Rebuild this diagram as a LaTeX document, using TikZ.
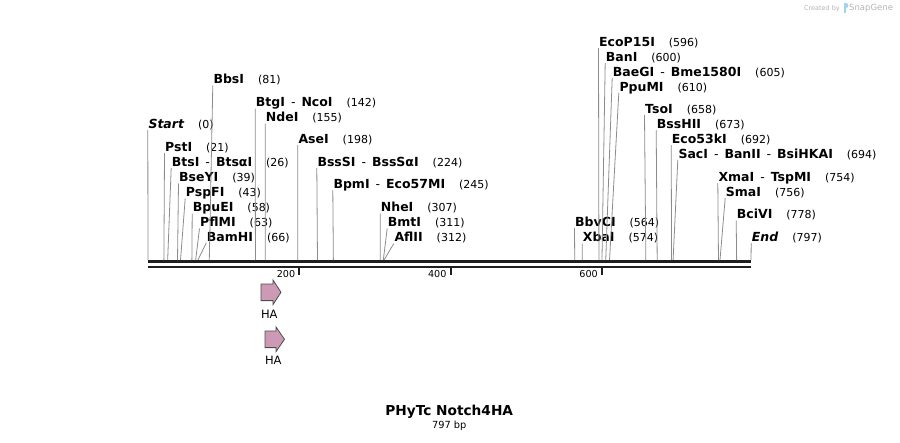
\documentclass[tikz,border=0pt]{standalone}
\usepackage{fontspec}
\setmainfont{DejaVu Sans}[BoldFont={DejaVu Sans Bold},ItalicFont={DejaVu Sans Oblique},BoldItalicFont={DejaVu Sans Bold Oblique}]
\definecolor{feature}{HTML}{CC9AB4}
\definecolor{cutline}{HTML}{8C8C8C}
\definecolor{logo}{HTML}{B4B4B4}
\definecolor{logoblue}{HTML}{9DD3F3}
\newcommand{\bpx}{0.7566}
\newcommand{\enzyme}[2]{{\fontsize{12.5}{14}\selectfont\bfseries #1}\hspace{14pt}(#2)}
\newcommand{\enzsep}{\hspace{6pt}\textmd{-}\hspace{6pt}}

\begin{document}
\begin{tikzpicture}[x=1pt,y=-1pt,
		enz/.style={anchor=base west,inner sep=0pt,font=\fontsize{11}{13}\selectfont},
		cut/.style={draw=cutline,line width=0.8pt},
		backbone/.style={draw=black!88,line width=3pt},
		tick/.style={draw=black!88,line width=2pt},
		feat/.style={draw=black!70,fill=feature,line width=0.8pt}]
		%
		\useasboundingbox (0,0) rectangle (900,442);
		%
		\coordinate (bbL) at (148,261.5); \coordinate (bbR) at (751,261.5);
		\draw[backbone] (bbL) -- (bbR);
		\draw[backbone,line width=2.5pt] ([yshift=-5.5pt]bbL) -- ([yshift=-5.5pt]bbR);
		%
		\coordinate (t200) at ({148+200*\bpx},268); \draw[tick] (t200) -- ++(0,7);
		\coordinate (t400) at ({148+400*\bpx},268); \draw[tick] (t400) -- ++(0,7);
		\coordinate (t600) at ({148+600*\bpx},268); \draw[tick] (t600) -- ++(0,7);
		\node[anchor=base east,inner sep=0pt,font=\fontsize{9.6}{11}\selectfont] (n200) at ([xshift=-4pt,yshift=-9pt]t200) {200};
		\node[anchor=base east,inner sep=0pt,font=\fontsize{9.6}{11}\selectfont] (n400) at ([xshift=-4pt,yshift=-9pt]t400) {400};
		\node[anchor=base east,inner sep=0pt,font=\fontsize{9.6}{11}\selectfont] (n600) at ([xshift=-4pt,yshift=-9pt]t600) {600};
		%
		% sites
		\coordinate (sStart) at ({148+0*\bpx},260); \coordinate (sPstI) at ({148+21*\bpx},260);
		\coordinate (sBtsI) at ({148+26*\bpx},260); \coordinate (sBseYI) at ({148+39*\bpx},260);
		\coordinate (sPspFI) at ({148+43*\bpx},260); \coordinate (sBpuEI) at ({148+58*\bpx},260);
		\coordinate (sPflMI) at ({148+63*\bpx},260); \coordinate (sBamHI) at ({148+66*\bpx},260);
		\coordinate (sBbsI) at ({148+81*\bpx},260); \coordinate (sBtgI) at ({148+142*\bpx},260);
		\coordinate (sNdeI) at ({148+155*\bpx},260); \coordinate (sAseI) at ({148+198*\bpx},260);
		\coordinate (sBssSI) at ({148+224*\bpx},260); \coordinate (sBpmI) at ({148+245*\bpx},260);
		\coordinate (sNheI) at ({148+307*\bpx},260); \coordinate (sBmtI) at ({148+311*\bpx},260);
		\coordinate (sAflII) at ({148+312*\bpx},260); \coordinate (sBbvCI) at ({148+564*\bpx},260);
		\coordinate (sXbaI) at ({148+574*\bpx},260); \coordinate (sEcoP) at ({148+596*\bpx},260);
		\coordinate (sBanI) at ({148+600*\bpx},260); \coordinate (sBaeGI) at ({148+605*\bpx},260);
		\coordinate (sPpuMI) at ({148+610*\bpx},260); \coordinate (sTsoI) at ({148+658*\bpx},260);
		\coordinate (sBssHII) at ({148+673*\bpx},260); \coordinate (sEcoK) at ({148+692*\bpx},260);
		\coordinate (sSacI) at ({148+694*\bpx},260); \coordinate (sXmaI) at ({148+754*\bpx},260);
		\coordinate (sSmaI) at ({148+756*\bpx},260); \coordinate (sBciVI) at ({148+778*\bpx},260);
		\coordinate (sEnd) at ({148+797*\bpx},260);
		%
		% labels
		\node[enz] (lBbsI) at (213.3,83.3) {\enzyme{BbsI}{81}};
		\node[enz] (lBtgI) at (255.7,106.5) {\enzyme{BtgI\enzsep NcoI}{142}};
		\node[enz] (lNdeI) at (265.7,121.5) {\enzyme{NdeI}{155}};
		\node[enz] (lStart) at (148.3,128) {\enzyme{\itshape Start}{0}};
		\node[enz] (lAseI) at (298.3,143) {\enzyme{AseI}{198}};
		\node[enz] (lPstI) at (165,151) {\enzyme{PstI}{21}};
		\node[enz] (lBtsI) at (171.7,166) {\enzyme{BtsI\enzsep BtsαI}{26}};
		\node[enz] (lBssSI) at (317.3,166) {\enzyme{BssSI\enzsep BssSαI}{224}};
		\node[enz] (lBseYI) at (179,181.5) {\enzyme{BseYI}{39}};
		\node[enz] (lBpmI) at (333.3,188) {\enzyme{BpmI\enzsep Eco57MI}{245}};
		\node[enz] (lPspFI) at (185.7,196.5) {\enzyme{PspFI}{43}};
		\node[enz] (lBpuEI) at (192.7,211.5) {\enzyme{BpuEI}{58}};
		\node[enz] (lNheI) at (380.7,211.5) {\enzyme{NheI}{307}};
		\node[enz] (lPflMI) at (200,226.5) {\enzyme{PflMI}{63}};
		\node[enz] (lBmtI) at (387.7,226.5) {\enzyme{BmtI}{311}};
		\node[enz] (lBamHI) at (206.7,241) {\enzyme{BamHI}{66}};
		\node[enz] (lAflII) at (394.3,241.5) {\enzyme{AflII}{312}};
		%
		\node[enz] (lEcoP) at (599,46) {\enzyme{EcoP15I}{596}};
		\node[enz] (lBanI) at (605.7,61) {\enzyme{BanI}{600}};
		\node[enz] (lBaeGI) at (612.7,76) {\enzyme{BaeGI\enzsep Bme1580I}{605}};
		\node[enz] (lPpuMI) at (619.3,91) {\enzyme{PpuMI}{610}};
		\node[enz] (lTsoI) at (645,113) {\enzyme{TsoI}{658}};
		\node[enz] (lBssHII) at (656.7,128) {\enzyme{BssHII}{673}};
		\node[enz] (lEcoK) at (671.7,143) {\enzyme{Eco53kI}{692}};
		\node[enz] (lSacI) at (678.3,158) {\enzyme{SacI\enzsep BanII\enzsep BsiHKAI}{694}};
		\node[enz] (lXmaI) at (718.3,181) {\enzyme{XmaI\enzsep TspMI}{754}};
		\node[enz] (lSmaI) at (725.7,196) {\enzyme{SmaI}{756}};
		\node[enz] (lBciVI) at (736.7,218.5) {\enzyme{BciVI}{778}};
		\node[enz] (lEnd) at (751.7,241) {\enzyme{\itshape End}{797}};
		\node[enz] (lBbvCI) at (575,226) {\enzyme{BbvCI}{564}};
		\node[enz] (lXbaI) at (582.7,241.5) {\enzyme{XbaI}{574}};
		%
		% cut lines
		\foreach \e in {Start,PstI,BtsI,BseYI,PspFI,BpuEI,PflMI,BamHI,BbsI,BtgI,NdeI,AseI,BssSI,BpmI,NheI,BmtI,AflII,
			BbvCI,XbaI,EcoP,BanI,BaeGI,PpuMI,TsoI,BssHII,EcoK,SacI,XmaI,SmaI,BciVI,End}
			\draw[cut] (s\e) -- ([xshift=-0.5pt,yshift=-2pt]l\e.base west);
		%
		% features
		\coordinate (ha1) at (261,292.3);
		\draw[feat] (ha1) ++(0,-8.3) -- ++(12,0) -- ++(0,-4) -- ++(8,12.3) -- ++(-8,12.3) -- ++(0,-4) -- ++(-12,0) -- cycle;
		\node[font=\fontsize{11.5}{13}\selectfont] (tha1) at (269.3,314.3) {HA};
		\coordinate (ha2) at (265,339.3);
		\draw[feat] (ha2) ++(0,-8.3) -- ++(11,0) -- ++(0,-4) -- ++(8.5,12.3) -- ++(-8.5,12.3) -- ++(0,-4) -- ++(-11,0) -- cycle;
		\node[font=\fontsize{11.5}{13}\selectfont] (tha2) at (273.3,360) {HA};
		%
		% title
		\node[anchor=base,inner sep=0pt,font=\fontsize{13.7}{16}\selectfont\bfseries] (title) at (449.2,415) {PHyTc Notch4HA};
		\node[anchor=base,inner sep=0pt,font=\fontsize{9.8}{11}\selectfont] (size) at (449.2,428) {797 bp};
		%
		% credit
		\node[anchor=base east,inner sep=0pt,text=logo,font=\fontsize{6.5}{8}\selectfont] (credit) at (840,10) {Created by};
		\fill[logoblue] (843.5,3) rectangle (846,12.5);
		\fill[logoblue] (846,3) .. controls (849,3) and (849,8) .. (846,8) -- cycle;
		\node[anchor=base west,inner sep=0pt,text=logo,font=\fontsize{8.5}{10}\selectfont] (brand) at (849,10.5) {SnapGene};
		%
	\end{tikzpicture}
\end{document}
